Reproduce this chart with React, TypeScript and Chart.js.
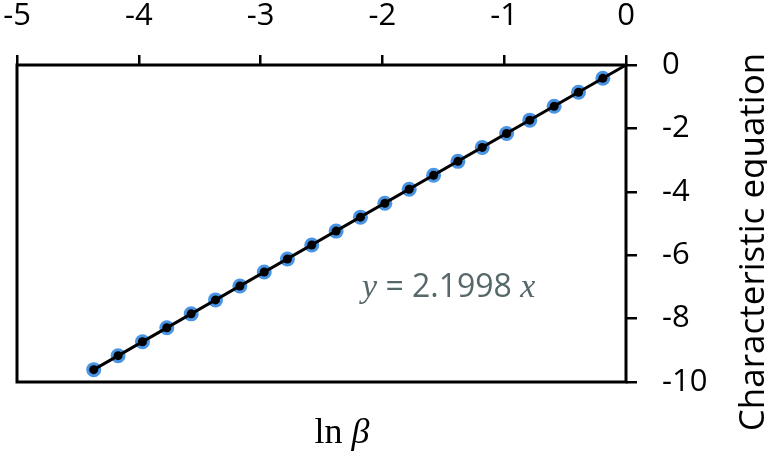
import React, { useEffect, useRef } from "react";
import { Chart, registerables } from "chart.js";

Chart.register(...registerables);

const lnBeta = [-4.37, -4.17, -3.97, -3.77, -3.57, -3.37, -3.17, -2.97, -2.78, -2.58, -2.38, -2.18, -1.98, -1.78, -1.58, -1.38, -1.18, -0.98, -0.79, -0.59, -0.39, -0.19];
const charEq = [-9.61, -9.17, -8.73, -8.29, -7.85, -7.41, -6.97, -6.53, -6.12, -5.68, -5.24, -4.80, -4.36, -3.92, -3.48, -3.04, -2.60, -2.16, -1.74, -1.30, -0.86, -0.42];
const fitX = [-4.37, 0];
const fitY = [-9.61, 0];
const xTicks = [-5, -4, -3, -2, -1, 0];
const yTicks = [0, -2, -4, -6, -8, -10];
const xTitle = "ln β";
const yTitle = "Characteristic equation";
const equation = { y: "y", mid: " = 2.1998 ", x: "x" };

const SANS = "'Open Sans', 'Liberation Sans', sans-serif";
const SERIF = "'Liberation Serif', 'DejaVu Serif', serif";

export default function App() {
  const ref = useRef<HTMLCanvasElement | null>(null);

  useEffect(() => {
    document.body.style.margin = "0";
    const canvas = ref.current;
    if (!canvas) return;

    const pts = lnBeta.map((x, i) => ({ x, y: charEq[i] }));
    const fit = fitX.map((x, i) => ({ x, y: fitY[i] }));

    const deco = {
      id: "deco",
      beforeDatasetsDraw(chart: any) {
        const { ctx, chartArea: a } = chart;
        ctx.save();
        ctx.strokeStyle = "#000";
        ctx.lineWidth = 3;
        ctx.strokeRect(a.left, a.top, a.right - a.left, a.bottom - a.top);
        ctx.restore();
      },
      afterDraw(chart: any) {
        const { ctx } = chart;
        ctx.save();
        ctx.fillStyle = "#000";
        ctx.font = `35px ${SANS}`;
        ctx.translate(765, 242);
        ctx.rotate(-Math.PI / 2);
        ctx.textAlign = "center";
        ctx.textBaseline = "alphabetic";
        ctx.fillText(yTitle, 0, -1);
        ctx.restore();

        ctx.save();
        ctx.fillStyle = "#000";
        ctx.textAlign = "left";
        ctx.textBaseline = "alphabetic";
        const parts = xTitle.split(" ");
        ctx.font = `36px ${SERIF}`;
        const l1 = parts[0] + " ";
        const w1 = ctx.measureText(l1).width;
        ctx.font = `italic 36px ${SERIF}`;
        const w2 = ctx.measureText(parts[1]).width;
        const start = 342 - (w1 + w2) / 2;
        ctx.font = `36px ${SERIF}`;
        ctx.fillText(l1, start, 443);
        ctx.font = `italic 36px ${SERIF}`;
        ctx.fillText(parts[1], start + w1, 443);
        ctx.restore();

        ctx.save();
        ctx.fillStyle = "#56686a";
        ctx.textBaseline = "alphabetic";
        ctx.textAlign = "left";
        let x = 362;
        const by = 297;
        ctx.font = `italic 34px ${SERIF}`;
        ctx.fillText(equation.y, x, by);
        x += ctx.measureText(equation.y).width;
        ctx.font = `32px ${SANS}`;
        ctx.fillText(equation.mid, x, by);
        x += ctx.measureText(equation.mid).width;
        ctx.font = `italic 34px ${SERIF}`;
        ctx.fillText(equation.x, x, by);
        ctx.restore();
      },
    };

    const chart = new Chart(canvas, {
      type: "scatter",
      data: {
        datasets: [
          {
            data: pts,
            backgroundColor: "#4a94e4",
            borderColor: "#4a94e4",
            pointRadius: 7.5,
            pointBorderWidth: 0,
            showLine: false,
            order: 3,
          },
          {
            data: fit,
            borderColor: "#000",
            borderWidth: 3,
            pointRadius: 0,
            showLine: true,
            clip: false as any,
            order: 2,
          },
          {
            data: pts,
            backgroundColor: "#000",
            borderColor: "#000",
            pointRadius: 4.5,
            pointBorderWidth: 0,
            showLine: false,
            order: 1,
          },
        ],
      },
      plugins: [deco],
      options: {
        responsive: false,
        animation: false,
        events: [],
        layout: { padding: { left: 17, top: 0, right: 0, bottom: 72 } },
        plugins: { legend: { display: false }, tooltip: { enabled: false }, title: { display: false } },
        scales: {
          x: {
            type: "linear",
            position: "top",
            min: -5,
            max: 0,
            afterBuildTicks: (s: any) => { s.ticks = xTicks.map((v) => ({ value: v })); },
            afterFit: (s: any) => { s.height = 65; s.paddingLeft = 0; s.paddingRight = 0; },
            ticks: {
              font: { family: SANS, size: 31 },
              color: "#000",
              padding: 20,
              maxRotation: 0,
              autoSkip: false,
            },
            grid: { drawOnChartArea: false, drawTicks: true, tickLength: 10, color: "#000", lineWidth: 2.5 },
            border: { display: false },
          },
          y: {
            type: "linear",
            position: "right",
            min: -10,
            max: 0,
            afterBuildTicks: (s: any) => { s.ticks = yTicks.map((v) => ({ value: v })); },
            afterFit: (s: any) => { s.width = 141; s.paddingTop = 0; s.paddingBottom = 0; },
            ticks: {
              font: { family: SANS, size: 31 },
              color: "#000",
              padding: 25,
              autoSkip: false,
            },
            grid: { drawOnChartArea: false, drawTicks: true, tickLength: 11, color: "#000", lineWidth: 2.5 },
            border: { display: false },
          },
        },
      },
    } as any);

    return () => chart.destroy();
  }, []);

  return (
    <div style={{ width: 767, height: 454 }}>
      <canvas ref={ref} width={767} height={454} style={{ display: "block" }} />
    </div>
  );
}
